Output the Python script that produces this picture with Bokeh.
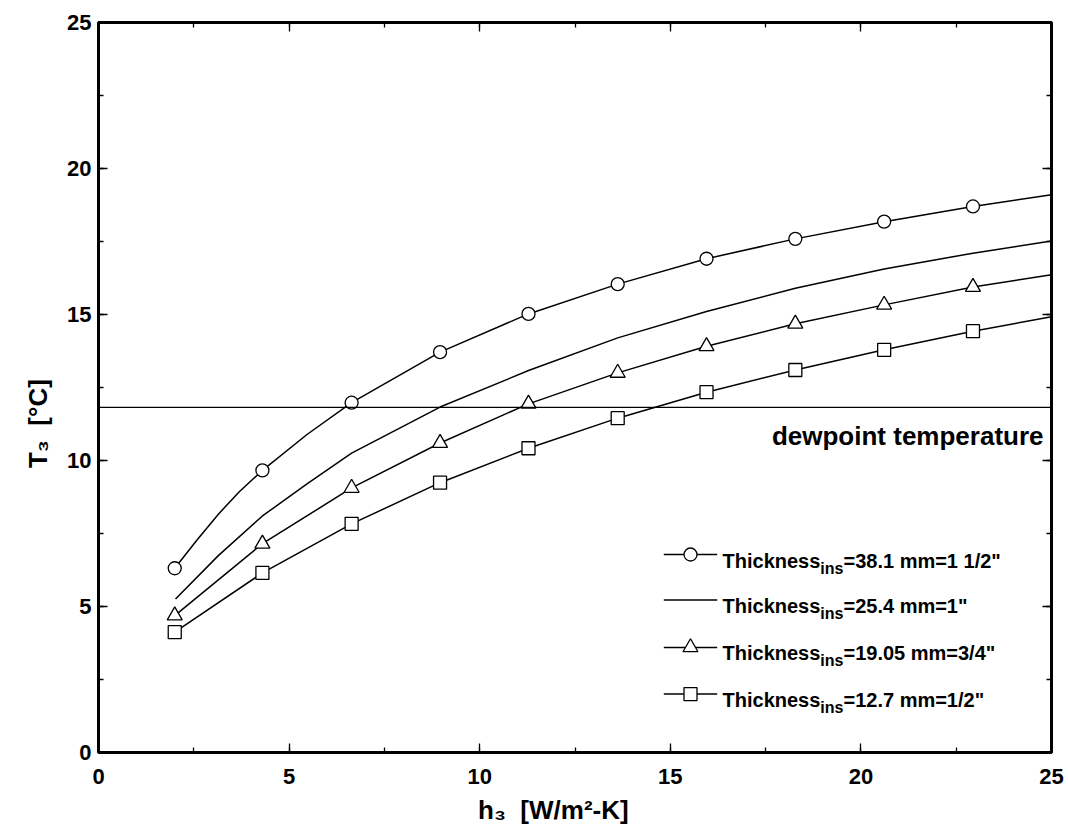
from bokeh.plotting import figure
from bokeh.models import (Label, Span, LinearAxis, SingleIntervalTicker,
                          CustomJSTickFormatter)
from bokeh.embed import file_html
from bokeh.resources import INLINE

# ---------------------------------------------------------------------------
# Data: surface temperature T3 [°C] versus outer film coefficient h3 [W/m2-K]
# ---------------------------------------------------------------------------
h3_points = [2.0, 4.3, 6.64, 8.96, 11.28, 13.62, 15.95, 18.28, 20.61, 22.94]

T3_38mm = [6.31, 9.66, 11.98, 13.71, 15.02, 16.04, 16.91, 17.59, 18.18, 18.70]
T3_19mm = [4.69, 7.15, 9.06, 10.6, 11.94, 13.0, 13.91, 14.68, 15.33, 15.94]
T3_12mm = [4.12, 6.15, 7.83, 9.24, 10.42, 11.45, 12.34, 13.1, 13.79, 14.43]

# continuous curves (denser where the curvature is strong)
h3_38mm_curve = [2.0, 2.6, 3.15, 3.7, 4.3, 5.47, 6.64, 8.96, 11.28, 13.62,
                 15.95, 18.28, 20.61, 22.94, 25.0]
T3_38mm_curve = [6.31, 7.3, 8.17, 8.94, 9.66, 10.89, 11.98, 13.71, 15.02, 16.04,
                 16.91, 17.59, 18.18, 18.70, 19.1]

h3_25mm_curve = [2.02, 3.15, 4.3, 5.47, 6.64, 8.96, 11.28, 13.62, 15.95, 18.28,
                 20.61, 22.94, 25.0]
T3_25mm_curve = [5.26, 6.75, 8.1, 9.2, 10.25, 11.83, 13.08, 14.2, 15.1, 15.9,
                 16.56, 17.1, 17.52]

h3_curve_end = 25.0
T3_19mm_end = 16.36
T3_12mm_end = 14.92

dewpoint_T = 11.82

legend_mm = ["38.1", "25.4", "19.05", "12.7"]
legend_in = ["1 1/2", "1", "3/4", "1/2"]
legend_markers = ["circle", None, "triangle", "square"]

x_ticks = [0, 5, 10, 15, 20, 25]
y_ticks = [0, 5, 10, 15, 20, 25]

NB = "\u00a0"
x_title = "h\u2083" + NB * 2 + "[W/m\u00b2-K]" + NB * 6
y_title = "T\u2083" + NB * 2 + "[\u00b0C]" + NB * 10

# ---------------------------------------------------------------------------
FONT = "Liberation Sans"

# advance widths (em) of Liberation Sans Bold, used to chain text pieces
ADV = {' ': 0.278, '"': 0.474, '.': 0.278, '/': 0.278, '=': 0.584,
       'T': 0.611, 'c': 0.556, 'e': 0.556, 'h': 0.611, 'i': 0.278,
       'k': 0.556, 'm': 0.889, 'n': 0.611, 's': 0.556}


def text_width(s, size):
    return sum(ADV.get(ch, 0.556) for ch in s) * size


p = figure(width=1068, height=840,
           x_range=(x_ticks[0], x_ticks[-1]), y_range=(y_ticks[0], y_ticks[-1]),
           min_border_left=98, min_border_right=17,
           min_border_top=22, min_border_bottom=88,
           output_backend="svg", toolbar_location=None,
           background_fill_color="white", border_fill_color="white")

p.xgrid.visible = False
p.ygrid.visible = False
p.outline_line_color = "black"
p.outline_line_width = 3
p.outline_line_alpha = 1.0


def style_axis(ax, labels=True):
    ax.ticker = SingleIntervalTicker(interval=5, num_minor_ticks=2)
    ax.axis_line_color = "black"
    ax.axis_line_width = 3
    ax.major_tick_in = 9
    ax.major_tick_out = 0
    ax.minor_tick_in = 5
    ax.minor_tick_out = 0
    ax.major_tick_line_width = 1.3
    ax.minor_tick_line_width = 1.3
    ax.major_tick_line_color = "black"
    ax.minor_tick_line_color = "black"
    ax.major_label_text_font = FONT
    ax.major_label_text_font_style = "bold"
    ax.major_label_text_font_size = "22px"
    ax.major_label_text_color = "black"
    ax.axis_label_text_font = FONT
    ax.axis_label_text_font_style = "bold"
    ax.axis_label_text_font_size = "26px"
    ax.axis_label_text_color = "black"
    if not labels:
        ax.formatter = CustomJSTickFormatter(code="return ''")
        ax.major_label_standoff = 0


xa = p.xaxis[0]
ya = p.yaxis[0]
style_axis(xa)
style_axis(ya)
xa.major_label_standoff = 16
ya.major_label_standoff = 7
xa.axis_label = x_title
ya.axis_label = y_title
xa.axis_label_standoff = 8
ya.axis_label_standoff = 11

top_ax = LinearAxis()
right_ax = LinearAxis()
style_axis(top_ax, labels=False)
style_axis(right_ax, labels=False)
p.add_layout(top_ax, "above")
p.add_layout(right_ax, "right")

# dewpoint reference line
p.add_layout(Span(location=dewpoint_T, dimension="width",
                  line_color="black", line_width=1.3))
p.add_layout(Label(x=x_ticks[-1], y=dewpoint_T, x_offset=-8, y_offset=-28.5,
                   text="dewpoint temperature", text_align="right",
                   text_baseline="alphabetic", text_font=FONT,
                   text_font_style="bold", text_font_size="26px",
                   text_color="black"))

LW = 1.5
MK = dict(line_color="black", fill_color="white", line_width=1.3)

# curves
p.line(h3_38mm_curve, T3_38mm_curve, line_color="black", line_width=LW)
p.line(h3_25mm_curve, T3_25mm_curve, line_color="black", line_width=LW)
p.line(h3_points + [h3_curve_end], T3_19mm + [T3_19mm_end],
       line_color="black", line_width=LW)
p.line(h3_points + [h3_curve_end], T3_12mm + [T3_12mm_end],
       line_color="black", line_width=LW)

# markers
p.scatter(h3_points, T3_38mm, marker="circle", size=13, **MK)
p.scatter(h3_points, T3_19mm, marker="triangle", size=15, **MK)
p.scatter(h3_points, T3_12mm, marker="square", size=13, **MK)

# legend (sample line + marker + label with subscript)
leg_x0, leg_x1, leg_xm, leg_xt = 14.83, 16.23, 15.53, 16.37
leg_rows = [6.78, 5.22, 3.60, 2.0]
MAIN, SUB = 20, 16
for row_y, mm, inch, mk in zip(leg_rows, legend_mm, legend_in, legend_markers):
    p.line([leg_x0, leg_x1], [row_y, row_y], line_color="black", line_width=LW)
    if mk is not None:
        p.scatter([leg_xm], [row_y], marker=mk,
                  size=15 if mk == "triangle" else 13, **MK)
    pieces = [("Thickness", MAIN, -6), ("ins", SUB, -13.5),
              ("=%s mm=%s\"" % (mm, inch), MAIN, -6)]
    off = 0.0
    for txt, size, dy in pieces:
        p.add_layout(Label(x=leg_xt, y=row_y, x_offset=off, y_offset=dy,
                           text=txt, text_align="left",
                           text_baseline="alphabetic", text_font=FONT,
                           text_font_style="bold",
                           text_font_size="%spx" % size, text_color="black"))
        off += text_width(txt, size)

open("out.html", "w").write(file_html(p, INLINE))
